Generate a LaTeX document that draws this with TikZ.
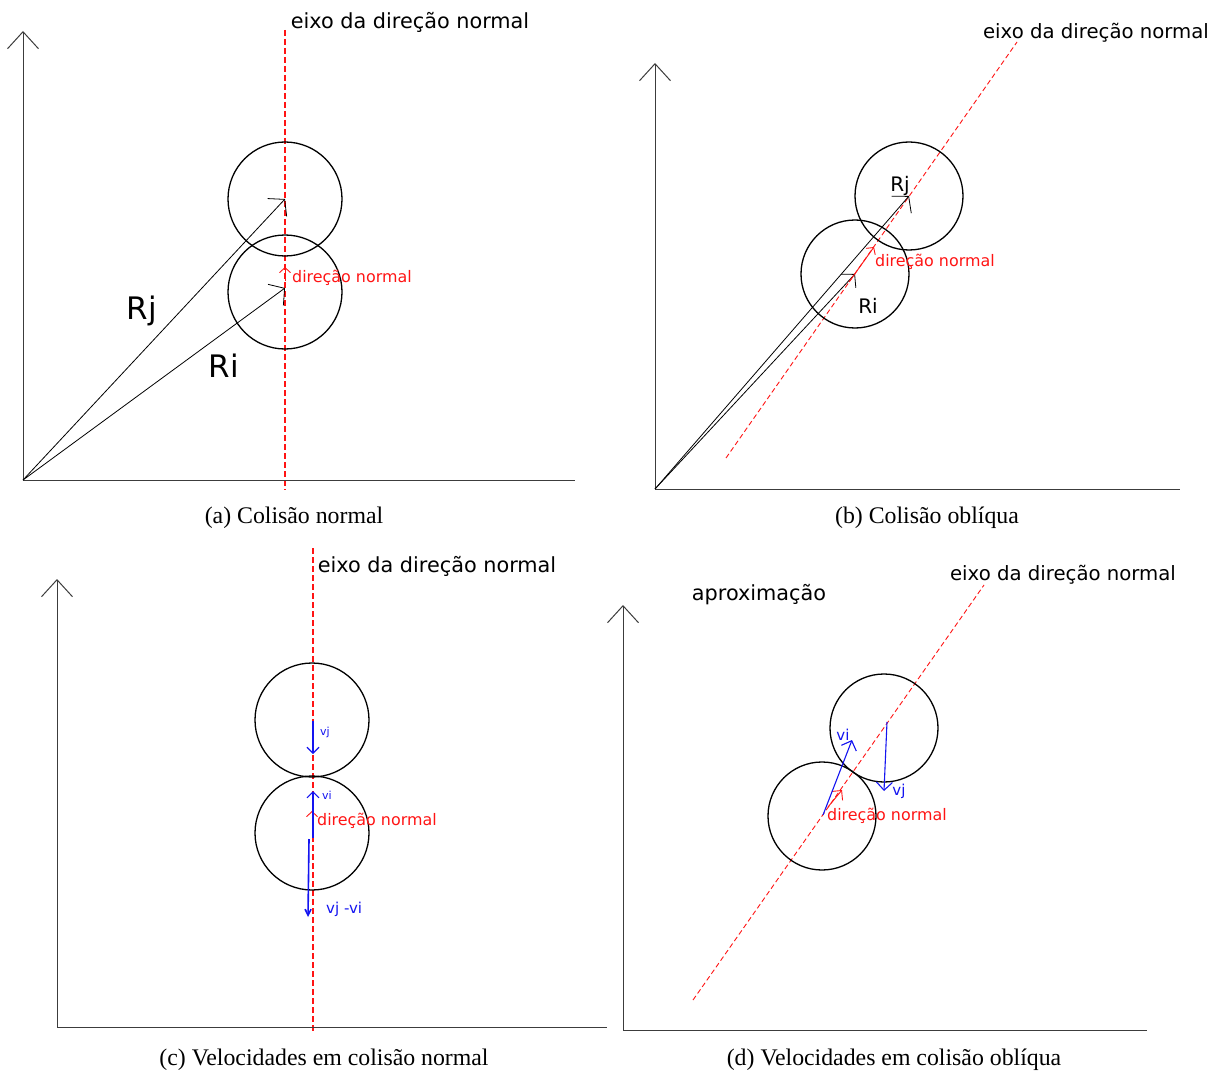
\documentclass[tikz,border=0pt]{standalone}
\usepackage{fontspec}
\setmainfont{Liberation Serif}
\newfontfamily\diagfont{DejaVu Sans}
\usetikzlibrary{arrows.meta}
\definecolor{normaldir}{RGB}{255,20,20}
\definecolor{speed}{RGB}{20,20,240}
\definecolor{axisgray}{RGB}{60,60,60}

\tikzset{
  yaxis/.style={draw=axisgray, line width=1pt, -{Straight Barb[length=17pt,width=31pt]}},
  xaxis/.style={draw=axisgray, line width=1pt},
  normalaxis/.style={draw=normaldir, line width=0.9pt, dash pattern=on 5pt off 3pt},
  upright axis/.style={draw=normaldir, line width=1.7pt, dash pattern=on 6pt off 3pt},
  ball/.style={circle, draw, line width=1.3pt, inner sep=0pt, minimum size=#1},
  radius vec/.style={draw, line width=0.8pt, -{Straight Barb[length=11pt,width=26pt]}},
  dirvec/.style={draw=normaldir, line width=0.9pt, -{Straight Barb[length=5pt,width=11pt]}},
  speedvec/.style={draw=speed, line width=1.1pt, -{Straight Barb[length=6pt,width=12pt]}},
  lbl/.style={font=\diagfont\fontsize{20.8}{24}\selectfont, inner sep=0pt},
  small lbl/.style={font=\diagfont\fontsize{19.7}{24}\selectfont, inner sep=0pt},
  dirlbl/.style={font=\diagfont\fontsize{15.9}{19}\selectfont, text=normaldir, inner sep=0pt, anchor=west},
  speedlbl/.style={font=\diagfont\fontsize{#1}{16}\selectfont, text=speed, inner sep=0pt},
  caption/.style={font=\fontsize{23.8}{28}\selectfont, inner sep=0pt}
}

\begin{document}
\begin{tikzpicture}[x=1pt,y=-1pt]
\useasboundingbox (0,0) rectangle (1212,1075);

% (a) colisao normal
\coordinate (oa) at (23,480);
\coordinate (ya) at (23,31);
\coordinate (xa) at (575,480);
\coordinate (na1) at (285,30);
\coordinate (na2) at (285,490);
\draw[upright axis] (na1) -- (na2);
\draw[yaxis] (oa) -- (ya);
\draw[xaxis] (oa) -- (xa);
\node[ball=114pt] (aj) at (285,199) {};
\node[ball=114pt] (ai) at (285,292) {};
\draw[radius vec] (oa) -- (aj.center);
\draw[radius vec] (oa) -- ([yshift=4pt]ai.center);
\coordinate (ad1) at (285,281);
\coordinate (ad2) at (285,267);
\draw[dirvec] (ad1) -- (ad2);
\node[lbl] (aaxis) at (410,22) {eixo da direção normal};
\node[dirlbl] (adir) at (292,278) {direção normal};
\node[lbl, font=\diagfont\fontsize{31}{36}\selectfont] (arj) at (142,311) {Rj};
\node[lbl, font=\diagfont\fontsize{31}{36}\selectfont] (ari) at (224,366) {Ri};
\node[caption] (capa) at (294,518) {(a) Colisão normal};

% (b) colisao obliqua
\coordinate (ob) at (655,489);
\coordinate (yb) at (655,63);
\coordinate (xb) at (1180,489);
\coordinate (nb1) at (726,458);
\coordinate (nb2) at (1017,42);
\draw[normalaxis] (nb1) -- (nb2);
\draw[yaxis] (ob) -- (yb);
\draw[xaxis] (ob) -- (xb);
\node[ball=108pt] (bj) at (909,196) {};
\node[ball=108pt] (bi) at (855,274) {};
\draw[radius vec] (ob) -- (bj.center);
\draw[radius vec, -{Straight Barb[length=9pt,width=20pt]}] (ob) -- (bi.center);
\coordinate (bd1) at (849,282);
\coordinate (bd2) at (874,247);
\draw[dirvec] (bd1) -- (bd2);
\node[small lbl] (baxis) at (1096,33) {eixo da direção normal};
\node[dirlbl] (bdir) at (875,262) {direção normal};
\node[lbl, font=\diagfont\fontsize{20}{24}\selectfont] (brj) at (900,186) {Rj};
\node[lbl, font=\diagfont\fontsize{20}{24}\selectfont] (bri) at (868,306) {Ri};
\node[caption] (capb) at (927,518) {(b) Colisão oblíqua};

% (c) velocidades em colisao normal
\coordinate (oc) at (57,1027);
\coordinate (yc) at (57,579);
\coordinate (xc) at (607,1027);
\coordinate (nc1) at (313,548);
\coordinate (nc2) at (313,1032);
\draw[upright axis] (nc1) -- (nc2);
\draw[yaxis] (oc) -- (yc);
\draw[xaxis] (oc) -- (xc);
\node[ball=114pt] (cj) at (312,720) {};
\node[ball=114pt] (ci) at (312,833) {};
\coordinate (cd1) at (312,824);
\coordinate (cd2) at (312,811);
\draw[dirvec] (cd1) -- (cd2);
\coordinate (cvj1) at (313,721);
\coordinate (cvj2) at (313,754);
\coordinate (cvi1) at (313,838);
\coordinate (cvi2) at (313,791);
\coordinate (crel1) at (309,839);
\coordinate (crel2) at (308,917);
\draw[speedvec] (cvj1) -- (cvj2);
\draw[speedvec] (cvi1) -- (cvi2);
\draw[speedvec, line width=1.6pt, -{Straight Barb[length=6pt,width=6pt]}] (crel1) -- (crel2);
\node[lbl] (caxis) at (437,566) {eixo da direção normal};
\node[dirlbl] (cdir) at (317,821) {direção normal};
\node[speedlbl=11, anchor=west] (cvj) at (320,732) {vj};
\node[speedlbl=11, anchor=west] (cvi) at (322,795) {vi};
\node[speedlbl=15, anchor=west] (crel) at (326,909) {vj -vi};
\node[caption] (capc) at (324,1060) {(c) Velocidades em colisão normal};

% (d) velocidades em colisao obliqua
\coordinate (od) at (623,1030);
\coordinate (yd) at (623,605);
\coordinate (xd) at (1147,1030);
\coordinate (nd1) at (693,1000);
\coordinate (nd2) at (984,585);
\draw[normalaxis] (nd1) -- (nd2);
\draw[yaxis] (od) -- (yd);
\draw[xaxis] (od) -- (xd);
\node[ball=108pt] (dj) at (884,728) {};
\node[ball=108pt] (di) at (822,816) {};
\coordinate (dd1) at (828,807);
\coordinate (dd2) at (842,790);
\draw[dirvec, -{Straight Barb[length=7pt,width=14pt]}] (dd1) -- (dd2);
\coordinate (dvi1) at (823,815);
\coordinate (dvi2) at (852,740);
\coordinate (dvj1) at (887,722);
\coordinate (dvj2) at (884,791);
\draw[speedvec, -{Straight Barb[length=8pt,width=16pt]}] (dvi1) -- (dvi2);
\draw[speedvec, -{Straight Barb[length=8pt,width=16pt]}] (dvj1) -- (dvj2);
\node[small lbl] (daxis) at (1063,575) {eixo da direção normal};
\node[lbl] (dappr) at (759,595) {aproximação};
\node[dirlbl] (ddir) at (827,816) {direção normal};
\node[speedlbl=15] (dvi) at (843,735) {vi};
\node[speedlbl=15] (dvj) at (899,791) {vj};
\node[caption] (capd) at (894,1060) {(d) Velocidades em colisão oblíqua};
\end{tikzpicture}
\end{document}
